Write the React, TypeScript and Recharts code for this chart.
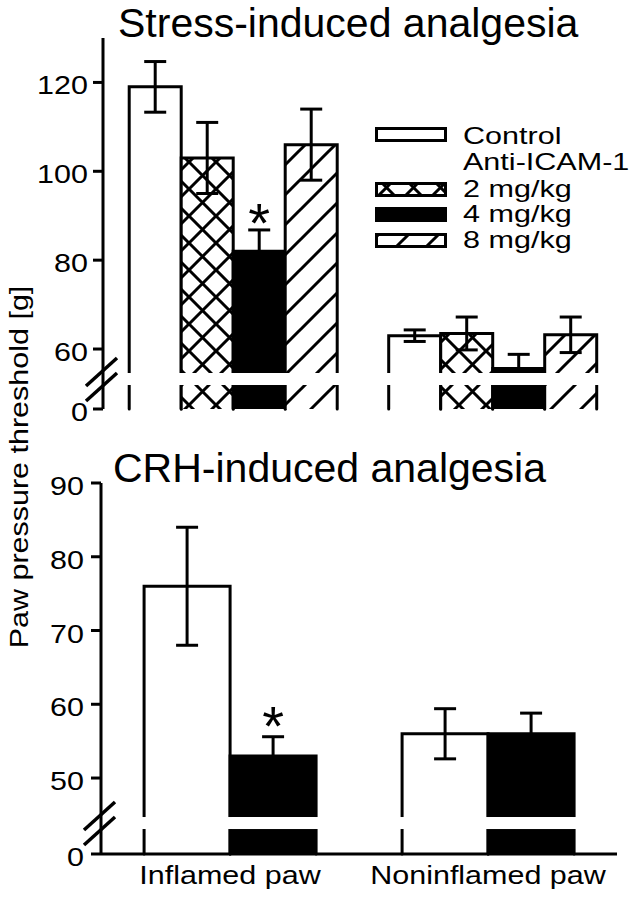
import React from 'react';
import { BarChart, Bar, XAxis, YAxis, ErrorBar, ReferenceLine, Legend } from 'recharts';

const categories = ['Inflamed paw', 'Noninflamed paw'];

// Stress-induced analgesia, paw pressure threshold [g], mean and SEM
const stressControl = [119, 63];
const stressControlSem = [5.7, 1.3];
const stressIcam2 = [103, 63.5];
const stressIcam2Sem = [8, 3.7];
const stressIcam4 = [82, 55.6];
const stressIcam4Sem = [4.8, 3.2];
const stressIcam8 = [106, 63.2];
const stressIcam8Sem = [8, 4];
const stressIcam4Sig = [true, false];
const stressTicks = [0, 60, 80, 100, 120];

// CRH-induced analgesia
const crhControl = [76, 56];
const crhControlSem = [8, 3.4];
const crhIcam4 = [53, 56];
const crhIcam4Sem = [2.6, 2.8];
const crhIcam4Sig = [true, false];
const crhTicks = [0, 50, 60, 70, 80, 90];

const legendLabels = ['Control', 'Anti-ICAM-1', '2 mg/kg', '4 mg/kg', '8 mg/kg'];
const legendFills = ['#fff', '', 'url(#xhatch)', '#000', 'url(#diag)'];

// broken axis: values above the break are drawn shifted down by `shift`
const stressShift = 46.5;
const stressTop = 130;
const stressGapAt = 6.75;
const crhShift = 39.7;
const crhTop = 90;
const crhGapAt = 4.2;

const FONT = '"Liberation Sans", Arial, Helvetica, sans-serif';
const STRETCH = 1.22;
const GAP = 12;
const AXIS = { stroke: '#000', strokeWidth: 3 };

const stressData = categories.map((name, i) => ({
  name,
  control: stressControl[i] - stressShift,
  controlErr: stressControlSem[i],
  icam2: stressIcam2[i] - stressShift,
  icam2Err: stressIcam2Sem[i],
  icam4: stressIcam4[i] - stressShift,
  icam4Err: stressIcam4Sem[i],
  icam4Sig: stressIcam4Sig[i],
  icam8: stressIcam8[i] - stressShift,
  icam8Err: stressIcam8Sem[i],
}));

const crhData = categories.map((name, i) => ({
  name,
  control: crhControl[i] - crhShift,
  controlErr: crhControlSem[i],
  icam4: crhIcam4[i] - crhShift,
  icam4Err: crhIcam4Sem[i],
  icam4Sig: crhIcam4Sig[i],
}));

const brokenBar = (key: string, fill: string, gapAt: number, starDy: number) => (props: any) => {
  const { x, y, width, height, payload } = props;
  const v = payload[key];
  const k = height / v;
  const base = y + height;
  const gy = base - gapAt * k;
  const g1 = gy - GAP / 2;
  const g2 = gy + GAP / 2;
  const errTop = y - payload[key + 'Err'] * k;
  return (
    <g>
      <rect x={x} y={y} width={width} height={Math.max(0, g1 - y)} fill={fill} />
      <rect x={x} y={g2} width={width} height={base - g2} fill={fill} />
      <path d={`M${x},${g1}V${y}H${x + width}V${g1}`} fill="none" stroke="#000" strokeWidth={3} strokeLinecap="round" />
      <path d={`M${x},${g2}V${base}M${x + width},${g2}V${base}`} fill="none" stroke="#000" strokeWidth={3} strokeLinecap="round" />
      {payload[key + 'Sig'] && (
        <text x={x + width / 2} y={errTop + starDy} textAnchor="middle" fontFamily={FONT} fontSize={56} fill="#000">*</text>
      )}
    </g>
  );
};

const axisBreak = (props: any) => {
  const { x1, x2, y1 } = props;
  if (x1 == null) return null;
  const top = y1 - GAP / 2;
  const bot = y1 + GAP / 2;
  return (
    <g>
      <rect x={x1 - 6} y={top} width={x2 - x1 + 10} height={GAP} fill="#fff" />
      <line x1={x1 - 17} y1={top + 13} x2={x1 + 14} y2={top - 15} stroke="#000" strokeWidth={3.5} />
      <line x1={x1 - 17} y1={bot + 16} x2={x1 + 14} y2={bot - 12} stroke="#000" strokeWidth={3.5} />
    </g>
  );
};

const yTick = (shift: number) => (props: any) => {
  const { x, y, payload } = props;
  const v = payload.value;
  const label = v === 0 ? '0' : String(Math.round(v + shift));
  return (
    <text transform={`translate(${x},${y + 12}) scale(${STRETCH},1)`} textAnchor="end" fontFamily={FONT} fontSize={25} fill="#000">
      {label}
    </text>
  );
};

const XTick = (props: any) => {
  const { x, y, payload } = props;
  return (
    <text transform={`translate(${x},${y + 30}) scale(${STRETCH},1)`} textAnchor="middle" fontFamily={FONT} fontSize={25} fill="#000">
      {payload.value}
    </text>
  );
};

const Patterns = () => (
  <defs>
    <pattern id="xhatch" width={27} height={27} patternUnits="userSpaceOnUse">
      <rect width={27} height={27} fill="#fff" />
      <path
        d="M-1,-1L28,28M26,-1L28,1M-1,26L1,28M28,-1L-1,28M1,-1L-1,1M28,26L26,28"
        stroke="#000"
        strokeWidth={3}
      />
    </pattern>
    <pattern id="diag" width={30} height={30} patternUnits="userSpaceOnUse">
      <rect width={30} height={30} fill="#fff" />
      <path d="M-1,31L31,-1M-1,1L1,-1M29,31L31,29" stroke="#000" strokeWidth={3} />
    </pattern>
  </defs>
);

const legendRows = [
  { swatch: 7, base: 24 },
  { swatch: -1, base: 50 },
  { swatch: 62, base: 77 },
  { swatch: 87, base: 102 },
  { swatch: 113, base: 128 },
];

const StressLegend = () => (
  <svg width={256} height={140} style={{ display: 'block', overflow: 'visible' }}>
    {legendLabels.map((label, i) => (
      <g key={label}>
        {legendFills[i] && (
          <rect x={3.5} y={legendRows[i].swatch + 1.5} width={69} height={12} fill={legendFills[i]} stroke="#000" strokeWidth={3} />
        )}
        <text transform={`translate(90,${legendRows[i].base}) scale(1.3,1)`} fontFamily={FONT} fontSize={23.5} fill="#000">
          {label}
        </text>
      </g>
    ))}
  </svg>
);

export default function App() {
  return (
    <div style={{ position: 'absolute', left: 0, top: 0, width: 629, height: 899, background: '#fff' }}>
      <div style={{ position: 'absolute', left: 0, top: 0 }}>
        <BarChart width={629} height={436} data={stressData} margin={{ top: 38, right: 7, bottom: 27, left: 0 }} barCategoryGap="10.1%" barGap={0}>
          <Patterns />
          <XAxis dataKey="name" tick={false} tickLine={false} axisLine={AXIS} height={0} />
          <YAxis
            type="number"
            domain={[0, stressTop - stressShift]}
            ticks={stressTicks.map((t) => (t === 0 ? 0 : t - stressShift))}
            interval={0}
            width={103}
            tickSize={10}
            tickMargin={5}
            tickLine={AXIS}
            axisLine={AXIS}
            tick={yTick(stressShift)}
          />
          <Bar dataKey="control" shape={brokenBar('control', '#fff', stressGapAt, 12)} isAnimationActive={false}>
            <ErrorBar dataKey="controlErr" width={11} stroke="#000" strokeWidth={3} />
          </Bar>
          <Bar dataKey="icam2" shape={brokenBar('icam2', 'url(#xhatch)', stressGapAt, 12)} isAnimationActive={false}>
            <ErrorBar dataKey="icam2Err" width={11} stroke="#000" strokeWidth={3} />
          </Bar>
          <Bar dataKey="icam4" shape={brokenBar('icam4', '#000', stressGapAt, 12)} isAnimationActive={false}>
            <ErrorBar dataKey="icam4Err" width={11} stroke="#000" strokeWidth={3} />
          </Bar>
          <Bar dataKey="icam8" shape={brokenBar('icam8', 'url(#diag)', stressGapAt, 12)} isAnimationActive={false}>
            <ErrorBar dataKey="icam8Err" width={11} stroke="#000" strokeWidth={3} />
          </Bar>
          <ReferenceLine y={stressGapAt} shape={axisBreak} />
          <Legend
            layout="vertical"
            align="center"
            verticalAlign="middle"
            content={() => <StressLegend />}
            wrapperStyle={{ left: 373, top: 120, width: 256 }}
          />
        </BarChart>
      </div>
      <div style={{ position: 'absolute', left: 0, top: 440 }}>
        <BarChart width={629} height={459} data={crhData} margin={{ top: 43, right: 12, bottom: 5, left: 0 }} barCategoryGap="16.7%" barGap={0}>
          <XAxis dataKey="name" tickLine={false} tickSize={0} tickMargin={0} axisLine={AXIS} height={40} tick={XTick} interval={0} />
          <YAxis
            type="number"
            domain={[0, crhTop - crhShift]}
            ticks={crhTicks.map((t) => (t === 0 ? 0 : t - crhShift))}
            interval={0}
            width={101}
            tickSize={10}
            tickMargin={7}
            tickLine={AXIS}
            axisLine={AXIS}
            tick={yTick(crhShift)}
          />
          <Bar dataKey="control" shape={brokenBar('control', '#fff', crhGapAt, 8)} isAnimationActive={false}>
            <ErrorBar dataKey="controlErr" width={11} stroke="#000" strokeWidth={3} />
          </Bar>
          <Bar dataKey="icam4" shape={brokenBar('icam4', '#000', crhGapAt, 8)} isAnimationActive={false}>
            <ErrorBar dataKey="icam4Err" width={11} stroke="#000" strokeWidth={3} />
          </Bar>
          <ReferenceLine y={crhGapAt} shape={axisBreak} />
        </BarChart>
      </div>
      <svg width={629} height={899} style={{ position: 'absolute', left: 0, top: 0, pointerEvents: 'none' }}>
        <text x={118} y={37} fontFamily={FONT} fontSize={41} fill="#000">Stress-induced analgesia</text>
        <text x={113} y={482} fontFamily={FONT} fontSize={41} fill="#000">CRH-induced analgesia</text>
        <text
          transform={`translate(28,467) rotate(-90) scale(${STRETCH},1)`}
          textAnchor="middle"
          fontFamily={FONT}
          fontSize={25}
          fill="#000"
        >
          Paw pressure threshold [g]
        </text>
      </svg>
    </div>
  );
}
